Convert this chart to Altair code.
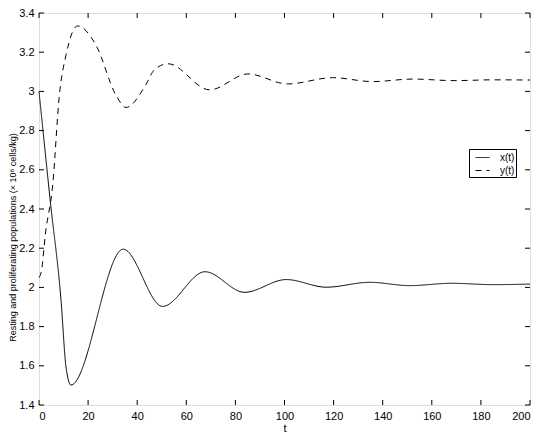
import altair as alt
import pandas as pd

# ---- data ----
x_t = [0, 4.6, 9.0, 11.0, 13.0, 34.3, 50.3, 67.6, 83.7, 100.7, 117.0, 134.7, 151.0, 168.0, 185.0, 200.0]
x_v = [3.00, 2.44, 1.93, 1.594, 1.502, 2.195, 1.903, 2.080, 1.975, 2.040, 2.001, 2.026, 2.009, 2.021, 2.014, 2.017]

y_t = [0, 1.0, 2.6, 5.6, 8.3, 11.0, 15.7, 23.2, 31.3, 35.4, 43.5, 46.9, 52.6, 69.5, 85.1, 101.3, 119.6, 135.9, 152.2, 169.0, 185.0, 200.0]
y_v = [2.05, 2.085, 2.271, 2.525, 2.982, 3.185, 3.334, 3.236, 2.982, 2.918, 3.033, 3.109, 3.141, 3.008, 3.089, 3.038, 3.070, 3.050, 3.063, 3.055, 3.059, 3.058]

series_names = ["x(t)", "y(t)"]
x_ticks = [0, 20, 40, 60, 80, 100, 120, 140, 160, 180, 200]
y_ticks = [1.4, 1.6, 1.8, 2.0, 2.2, 2.4, 2.6, 2.8, 3.0, 3.2, 3.4]

x_title = "t"
y_title = "Resting and proliferating populations (\u00d7 10\u2078 cells/kg)"

W, H = 491, 392
FONT = "Liberation Sans"

df = pd.concat([
    pd.DataFrame({"t": x_t, "v": x_v, "series": series_names[0]}),
    pd.DataFrame({"t": y_t, "v": y_v, "series": series_names[1]}),
])

xs = alt.Scale(domain=[0, 200], nice=False, zero=False)
ys = alt.Scale(domain=[1.4, 3.4], nice=False, zero=False)

x_axis = alt.Axis(
    values=x_ticks, title=x_title, tickSize=0, domain=False, grid=False,
    labelOverlap=False, labelPadding=5, titlePadding=1, labelFontSize=11, titleFontSize=11,
    labelFont=FONT, titleFont=FONT, titleFontWeight="normal",
    labelColor="black", titleColor="black")
y_axis = alt.Axis(
    values=y_ticks, title=y_title, tickSize=0, domain=False, grid=False,
    labelOverlap=False, labelExpr="format(datum.value, '.1~f')",
    labelPadding=5, labelFontSize=11, titleFontSize=9,
    labelFont=FONT, titleFont=FONT, titleFontWeight="normal",
    labelColor="black", titleColor="black",
    titleX=-27, titleY=224, titleBaseline="middle", titleAlign="center", titleAngle=270)

lines = alt.Chart(df).mark_line(interpolate="monotone", strokeWidth=1, color="black").encode(
    x=alt.X("t:Q", scale=xs, axis=x_axis),
    y=alt.Y("v:Q", scale=ys, axis=y_axis),
    strokeDash=alt.StrokeDash("series:N", scale=alt.Scale(domain=series_names, range=[[1, 0], [6, 5]]),
        legend=alt.Legend(
            title=None, orient="none", legendX=430, legendY=136,
            strokeColor="black", fillColor="white", padding=1,
            symbolType="stroke", symbolSize=196, symbolStrokeWidth=1, symbolStrokeColor="black",
            symbolOffset=5, labelOffset=10, rowPadding=0,
            labelFontSize=10, labelFont=FONT, labelColor="black",
            labelExpr="datum.label + '\u00a0\u00a0\u00a0'")),
)

xt = pd.DataFrame({"v": x_ticks})
yt = pd.DataFrame({"v": y_ticks})
tick_bottom = alt.Chart(xt).mark_rule(color="black", strokeWidth=1).encode(
    x=alt.X("v:Q", scale=xs, axis=x_axis), y=alt.value(H), y2=alt.value(H - 5))
tick_top = alt.Chart(xt).mark_rule(color="black", strokeWidth=1).encode(
    x=alt.X("v:Q", scale=xs, axis=x_axis), y=alt.value(0), y2=alt.value(5))
tick_left = alt.Chart(yt).mark_rule(color="black", strokeWidth=1).encode(
    y=alt.Y("v:Q", scale=ys, axis=y_axis), x=alt.value(0), x2=alt.value(5))
tick_right = alt.Chart(yt).mark_rule(color="black", strokeWidth=1).encode(
    y=alt.Y("v:Q", scale=ys, axis=y_axis), x=alt.value(W - 5), x2=alt.value(W))

chart = alt.layer(lines, tick_bottom, tick_top, tick_left, tick_right).properties(
    width=W, height=H,
    autosize=alt.AutoSizeParams(type="none"),
    padding={"left": 31, "top": 5, "right": 7, "bottom": 30},
).configure_view(stroke="black", strokeWidth=1).configure_axis(
    labelOverlap=False
).configure(background="white")

chart.save("out.html", embed_options={"renderer": "svg", "actions": False})
